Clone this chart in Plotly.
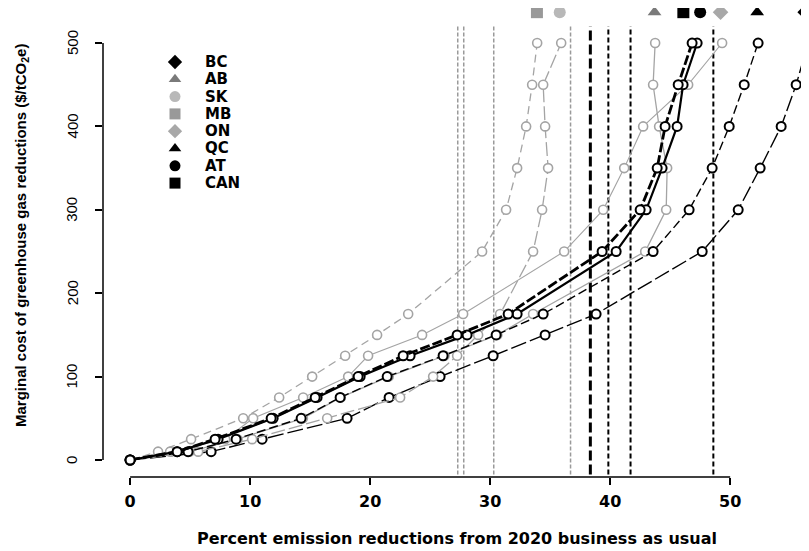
import plotly.graph_objects as go

# ---------------- data ----------------
cost_levels = [0, 10, 25, 50, 75, 100, 125, 150, 175, 250, 300, 350, 400, 450, 500]

regions = ["BC", "AB", "SK", "MB", "ON", "QC", "AT", "CAN"]

bc_reduction = [0, 6.75, 11.0, 18.08, 21.58, 25.83, 30.25, 34.58, 38.83, 47.67, 50.67, 52.5, 54.25, 55.5, 56.5]
ab_reduction = [0, 4.95, 8.95, 14.4, 17.55, 21.55, 26.2, 30.6, 33.58, 42.92, 44.67, 44.75, 44.08, 43.58, 43.75]
sk_reduction = [0, 5.67, 10.17, 16.42, 22.5, 25.25, 27.25, 29.0, 30.83, 33.58, 34.33, 34.83, 34.58, 34.42, 35.92]
mb_reduction = [0, 2.33, 5.08, 9.42, 12.42, 15.17, 17.92, 20.58, 23.17, 29.33, 31.33, 32.25, 33.0, 33.5, 33.92]
on_reduction = [0, 3.33, 7.92, 10.25, 14.42, 18.17, 19.83, 24.33, 27.75, 36.17, 39.42, 41.17, 42.75, 46.5, 49.33]
qc_reduction = [0, 4.83, 8.83, 14.25, 17.5, 21.42, 26.08, 30.5, 34.42, 43.58, 46.58, 48.5, 49.92, 51.17, 52.33]
at_reduction = [0, 3.92, 7.33, 11.92, 15.58, 19.17, 23.33, 28.08, 32.25, 40.5, 43.0, 44.33, 45.58, 46.08, 47.25]
can_reduction = [0, 3.92, 7.08, 11.75, 15.42, 19.0, 22.75, 27.25, 31.5, 39.33, 42.5, 43.92, 44.58, 45.67, 46.83]

# region markers drawn above the plotting region (percent reduction)
top_marker_x = [56.25, 43.7, 35.8, 33.9, 49.2, 52.25, 47.5, 46.1]

# vertical reference (target) lines, percent reduction
gray_targets = [27.3, 27.8, 30.3, 36.7]
black_thick_target = [38.35]
black_targets = [39.85, 41.7, 48.6]

x_ticks = [0, 10, 20, 30, 40, 50]
y_ticks = [0, 100, 200, 300, 400, 500]

x_title = "Percent emission reductions from 2020 business as usual"
y_title = "Marginal cost of greenhouse gas reductions ($/tCO<sub>2</sub>e)"

# ---------------- styles ----------------
series = {
    "BC": bc_reduction, "AB": ab_reduction, "SK": sk_reduction, "MB": mb_reduction,
    "ON": on_reduction, "QC": qc_reduction, "AT": at_reduction, "CAN": can_reduction,
}
GRAY = "#a4a4a4"
line_style = {
    "BC": dict(color="black", width=1.4, dash="16px,4px"),
    "AB": dict(color=GRAY, width=1.3, dash="solid"),
    "SK": dict(color=GRAY, width=1.3, dash="14px,4px"),
    "MB": dict(color=GRAY, width=1.3, dash="8px,5px"),
    "ON": dict(color=GRAY, width=1.1, dash="solid"),
    "QC": dict(color="black", width=1.4, dash="9px,4px"),
    "AT": dict(color="black", width=2.2, dash="solid"),
    "CAN": dict(color="black", width=2.8, dash="10px,3px"),
}
legend_symbol = {
    "BC": ("diamond", "black"), "AB": ("triangle-up", "#7a7a7a"), "SK": ("circle", "#b8b8b8"),
    "MB": ("square", "#999999"), "ON": ("diamond", "#a8a8a8"), "QC": ("triangle-up", "black"),
    "AT": ("circle", "black"), "CAN": ("square", "black"),
}
draw_order = ["BC", "AB", "SK", "MB", "ON", "QC", "AT", "CAN"]

FONT = "Liberation Sans, Arial, Helvetica, sans-serif"
WIDE = "DejaVu Sans, Verdana, sans-serif"

# the page body adds an 8px offset, so the figure is 8px smaller than the window
OFF = 8
W, H = 809 - OFF, 551 - OFF
L, R, T, B = 95, 0, 0, 74
PW, PH = W - L - R, H - T - B


def px_x(px):
    """reference-picture pixel -> paper x"""
    return (px - OFF - L) / PW


def px_y(py):
    """reference-picture pixel -> paper y"""
    return (H - B - (py - OFF)) / PH


x_min, x_max = -2.26, 56.57
y_min, y_max = -20.4, 542.0
y_region_top = 520  # top of the R plotting region

fig = go.Figure()

# curves (open circles joined by lines, R type="b" look)
for r in draw_order:
    ls = line_style[r]
    fig.add_trace(go.Scatter(
        x=series[r], y=cost_levels, mode="lines+markers",
        line=dict(color=ls["color"], width=ls["width"], dash=ls["dash"]),
        marker=dict(symbol="circle", size=9, color="white",
                    line=dict(color=ls["color"], width=2 if ls["color"] == "black" else 1.6)),
        showlegend=False, cliponaxis=False, hoverinfo="skip",
    ))

# markers just above the plotting region
y_top = max(y_ticks) + 0.074 * (max(y_ticks) - min(y_ticks))
for r, xv in zip(regions, top_marker_x):
    sym, col = legend_symbol[r]
    fig.add_trace(go.Scatter(
        x=[xv], y=[y_top], mode="markers",
        marker=dict(symbol=sym, size=12, color=col, line=dict(width=0)),
        showlegend=False, cliponaxis=False, hoverinfo="skip",
    ))

# manual legend (symbols on an overlay 0..1 axis, labels as annotations)
leg_sym_x = px_x(175)
leg_txt_x = px_x(203)
leg_rows = [px_y(62 + i * 17.3) for i in range(len(regions))]
fig.add_trace(go.Scatter(
    x=[leg_sym_x] * len(regions), y=leg_rows, mode="markers",
    marker=dict(symbol=[legend_symbol[r][0] for r in regions], size=11,
                color=[legend_symbol[r][1] for r in regions], line=dict(width=0)),
    xaxis="x2", yaxis="y2", showlegend=False, hoverinfo="skip", cliponaxis=False,
))
annotations = []
for r, yy in zip(regions, leg_rows):
    annotations.append(dict(text=r, xref="paper", yref="paper", x=leg_txt_x, y=yy,
                            xanchor="left", yanchor="middle", showarrow=False,
                            font=dict(family=WIDE, size=15, color="black", weight="bold")))

# axis titles
annotations.append(dict(text=x_title, xref="paper", yref="paper", x=px_x(457),
                        y=px_y(538), xanchor="center", yanchor="middle", showarrow=False,
                        font=dict(family=WIDE, size=16, color="black", weight="bold")))
annotations.append(dict(text=y_title, xref="paper", yref="paper", x=px_x(21),
                        y=px_y(236), xanchor="center", yanchor="middle", showarrow=False,
                        textangle=-90,
                        font=dict(family=FONT, size=15, color="black", weight="bold")))
# y tick labels (rotated, R style)
for v in y_ticks:
    annotations.append(dict(text=str(v), xref="paper", yref="y", x=px_x(72), y=v,
                            xanchor="center", yanchor="middle", showarrow=False, textangle=-90,
                            font=dict(family=FONT, size=15, color="black")))

shapes = []
line_y0 = y_min + 3
for xv in gray_targets:
    shapes.append(dict(type="line", xref="x", yref="y", x0=xv, x1=xv, y0=line_y0, y1=y_region_top,
                       line=dict(color="#9a9a9a", width=1.5, dash="4px,2px"), layer="below"))
for xv in black_thick_target:
    shapes.append(dict(type="line", xref="x", yref="y", x0=xv, x1=xv, y0=line_y0, y1=y_region_top,
                       line=dict(color="black", width=3, dash="10px,4px"), layer="below"))
for xv in black_targets:
    shapes.append(dict(type="line", xref="x", yref="y", x0=xv, x1=xv, y0=line_y0, y1=y_region_top,
                       line=dict(color="black", width=2, dash="5px,3px"), layer="below"))
# R-style axis lines spanning only the tick range
shapes.append(dict(type="line", xref="x", yref="paper", x0=min(x_ticks), x1=max(x_ticks), y0=0, y1=0,
                   line=dict(color="black", width=1.5)))
shapes.append(dict(type="line", xref="paper", yref="y", x0=0, x1=0, y0=min(y_ticks), y1=max(y_ticks),
                   line=dict(color="black", width=1.5)))

fig.update_layout(
    width=W, height=H,
    margin=dict(l=L, r=R, t=T, b=B, autoexpand=False),
    paper_bgcolor="white", plot_bgcolor="white",
    font=dict(family=FONT, color="black", size=14),
    shapes=shapes, annotations=annotations,
    showlegend=False,
    xaxis=dict(range=[x_min, x_max], showgrid=False, zeroline=False, showline=False,
               tickvals=x_ticks, ticks="outside", ticklen=7, tickwidth=1.5, tickcolor="black",
               tickfont=dict(family=WIDE, size=16, weight="bold"), ticklabelstandoff=3,
               automargin=False, fixedrange=True),
    yaxis=dict(range=[y_min, y_max], showgrid=False, zeroline=False, showline=False,
               tickvals=y_ticks, ticks="outside", ticklen=7, tickwidth=1.5, tickcolor="black",
               showticklabels=False, automargin=False, fixedrange=True),
    xaxis2=dict(overlaying="x", range=[0, 1], visible=False, fixedrange=True),
    yaxis2=dict(overlaying="y", range=[0, 1], visible=False, fixedrange=True),
)

fig.write_html("out.html")
